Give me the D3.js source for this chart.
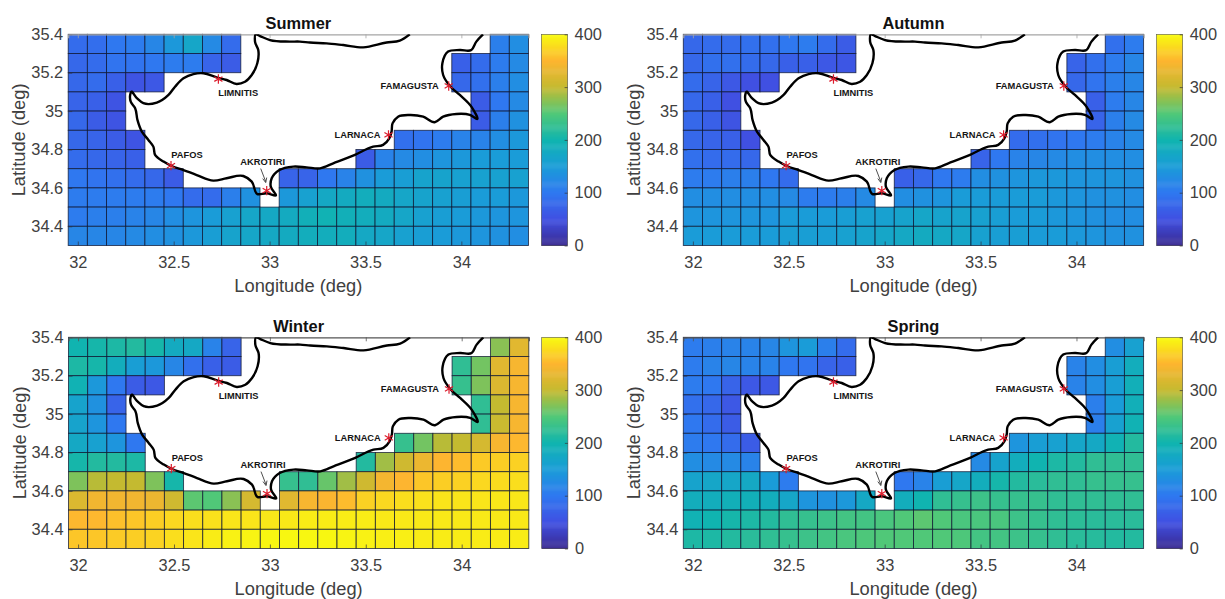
<!DOCTYPE html>
<html>
<head>
    <meta charset="utf-8">
    <script src="https://d3js.org/d3.v7.min.js"></script>
    <title>Cyprus seasons</title>
    <style>
        body { margin: 0; background: white; }
        svg { display: block; font-family: "Liberation Sans", Arial, sans-serif; }
    </style>
</head>
<body>
<svg id="chart" width="1225" height="599"></svg>
<script>
const n = null;

// one row per latitude, north to south, 24 longitudes; null = land / no data
const lons = d3.range(24).map(i => 32 + i * 0.1);
const lats = d3.range(11).map(i => 35.35 - i * 0.1);

const summer = [
  [85,88,100,105,120,145,170,125,85, n,n,n,n,n,n,n,n,n,n,n,n,n, 110,130],
  [80,85,95,95,100,105,105,75,65, n,n,n,n,n,n,n,n,n,n,n, 70,85,105,125],
  [80,85,70,55,60, n,n,n,n,n,n,n,n,n,n,n,n,n,n,n, 80,90,110,130],
  [75,70,55, n,n,n,n,n,n,n,n,n,n,n,n,n,n,n,n,n,n, 65,100,125],
  [80,65,55, n,n,n,n,n,n,n,n,n,n,n,n,n,n,n,n,n,n, 65,110,135],
  [80,75,65,55, n,n,n,n,n,n,n,n,n,n,n,n,n, 90,95,105,115,115,130,145],
  [85,80,75,70, n,n,n,n,n,n,n,n,n,n,n, 65,115,125,130,140,145,150,150,150],
  [100,95,90,85,80,65, n,n,n,n,n, 75,75,100,115,135,150,155,165,165,160,160,160,160],
  [105,105,105,105,105,100,85,85,110,135, n, 145,160,175,180,185,180,170,165,160,155,150,150,145],
  [105,110,110,115,120,130,140,150,160,170,175,180,190,195,190,185,180,170,160,155,150,145,140,140],
  [120,120,120,125,130,135,145,155,165,170,175,180,185,185,185,175,170,160,155,150,145,140,135,130]
];

const autumn = [
  [80,85,85,90,90,100,105,85,65, n,n,n,n,n,n,n,n,n,n,n,n,n, 90,105],
  [80,90,90,85,80,70,70,60,58, n,n,n,n,n,n,n,n,n,n,n, 75,90,105,120],
  [85,75,60,50,50, n,n,n,n,n,n,n,n,n,n,n,n,n,n,n, 80,95,110,120],
  [80,70,50, n,n,n,n,n,n,n,n,n,n,n,n,n,n,n,n,n,n, 70,105,120],
  [80,70,55, n,n,n,n,n,n,n,n,n,n,n,n,n,n,n,n,n,n, 75,110,125],
  [80,75,70,50, n,n,n,n,n,n,n,n,n,n,n,n,n, 85,90,95,100,105,115,125],
  [90,85,85,80, n,n,n,n,n,n,n,n,n,n,n, 75,100,115,120,125,130,130,130,130],
  [105,105,110,110,100,85, n,n,n,n,n, 70,80,100,105,130,135,140,145,145,140,140,140,135],
  [130,130,130,130,130,125,105,105,110,125, n, 130,135,140,150,150,150,150,150,145,140,135,135,130],
  [140,140,140,140,140,150,150,150,155,160,160,165,170,165,165,160,155,150,150,145,140,135,130,130],
  [150,150,150,150,150,155,155,155,160,165,170,175,180,175,170,160,155,155,150,150,145,140,135,135]
];

const winter = [
  [200,205,210,215,205,180,175,115,75, n,n,n,n,n,n,n,n,n,n,n,n,n, 275,325],
  [210,205,185,155,145,120,90,70,65, n,n,n,n,n,n,n,n,n,n,n, 225,265,325,345],
  [195,145,100,65,60, n,n,n,n,n,n,n,n,n,n,n,n,n,n,n, 230,270,320,345],
  [165,135,75, n,n,n,n,n,n,n,n,n,n,n,n,n,n,n,n,n,n, 225,300,345],
  [165,140,100, n,n,n,n,n,n,n,n,n,n,n,n,n,n,n,n,n,n, 225,305,345],
  [175,160,140,100, n,n,n,n,n,n,n,n,n,n,n,n,n, 230,265,295,300,315,345,352],
  [205,215,215,210, n,n,n,n,n,n,n,n,n,n,n, 215,285,310,335,350,355,365,368,370],
  [270,295,300,300,270,205, n,n,n,n,n, 230,225,260,285,310,342,350,362,368,370,375,378,380],
  [320,340,340,340,335,310,255,250,275,315, n, 325,345,348,355,370,375,380,382,384,385,385,386,386],
  [352,352,358,362,368,375,380,382,385,385,386,388,390,390,390,390,388,388,388,388,388,388,388,388],
  [362,362,366,368,372,380,385,390,394,396,398,398,398,398,396,394,392,392,390,390,390,390,390,390]
];

const spring = [
  [105,110,115,115,120,140,150,110,85, n,n,n,n,n,n,n,n,n,n,n,n,n, 130,160],
  [105,115,120,115,115,100,95,75,70, n,n,n,n,n,n,n,n,n,n,n, 115,130,155,185],
  [105,100,75,60,60, n,n,n,n,n,n,n,n,n,n,n,n,n,n,n, 115,130,155,190],
  [90,80,60, n,n,n,n,n,n,n,n,n,n,n,n,n,n,n,n,n,n, 110,150,190],
  [100,85,65, n,n,n,n,n,n,n,n,n,n,n,n,n,n,n,n,n,n, 110,160,195],
  [105,100,85,65, n,n,n,n,n,n,n,n,n,n,n,n,n, 140,155,160,170,175,195,215],
  [130,125,125,115, n,n,n,n,n,n,n,n,n,n,n, 125,165,185,200,210,215,225,225,225],
  [165,170,170,175,150,105, n,n,n,n,n, 100,115,155,170,185,205,215,220,225,225,230,230,230],
  [185,185,190,190,185,170,140,135,145,175, n, 185,200,225,230,235,230,230,230,225,225,225,225,225],
  [195,200,205,210,215,225,230,235,240,240,245,250,255,250,245,245,245,235,230,225,222,220,220,220],
  [210,210,215,220,225,230,235,240,245,248,250,250,250,250,248,240,240,235,230,225,220,218,215,215]
];

// coastline
const coastLon = [33.731,33.679,33.610,33.488,33.384,33.297,33.210,33.158,33.106,33.002,32.950,32.929,32.924,32.941,32.936,32.907,32.872,32.828,32.776,32.724,32.655,32.603,32.551,32.507,32.473,32.412,32.342,32.308,32.278,32.273,32.276,32.299,32.311,32.334,32.368,32.394,32.403,32.447,32.490,32.551,32.620,32.707,32.776,32.863,32.907,32.936,32.985,33.033,33.006,33.011,33.051,33.124,33.193,33.263,33.332,33.445,33.540,33.592,33.624,33.636,33.641,33.670,33.731,33.801,33.861,33.905,33.974,34.044,34.082,34.052,33.992,33.940,33.905,33.901,33.931,33.992,34.052,34.078,34.113];
const coastLat = [35.400,35.367,35.357,35.332,35.344,35.353,35.357,35.362,35.362,35.370,35.391,35.400,35.362,35.318,35.249,35.188,35.153,35.141,35.162,35.176,35.197,35.193,35.171,35.127,35.084,35.044,35.041,35.067,35.100,35.084,35.049,35.015,34.954,34.893,34.850,34.815,34.772,34.737,34.714,34.693,34.667,34.638,34.650,34.662,34.633,34.568,34.572,34.561,34.607,34.650,34.693,34.711,34.707,34.702,34.728,34.772,34.815,34.824,34.858,34.893,34.936,34.971,34.980,34.971,34.942,34.971,34.985,34.980,34.959,35.023,35.084,35.131,35.188,35.249,35.310,35.318,35.318,35.362,35.400];

const stationNames = ["LIMNITIS", "PAFOS", "AKROTIRI", "LARNACA", "FAMAGUSTA"];
const stationLon = [32.733, 32.486, 32.985, 33.620, 33.934];
const stationLat = [35.167, 34.716, 34.586, 34.876, 35.131];
// label anchor and offset from the star, in pixels
const stationAnchor = ["start", "middle", "middle", "end", "end"];
const stationDx = [0, 16, -4, -8, -10];
const stationDy = [17, -8, -26, 3, 3];

const lonTicks = [32, 32.5, 33, 33.5, 34];
const latTicks = [34.4, 34.6, 34.8, 35, 35.2, 35.4];
const barTicks = [0, 100, 200, 300, 400];

// parula as it looks in the colour bar
const colorStops = [0, 50, 100, 150, 200, 250, 300, 350, 400];
const colorValues = ["#3a2a90", "#4050e2", "#2f78f0", "#1a9cd8", "#10b4b0", "#50c878", "#c4ba30", "#fdb530", "#f8fa10"];

const seasons = ["Summer", "Autumn", "Winter", "Spring"];
const seasonData = [summer, autumn, winter, spring];
const panelLeft = [68.2, 683.3, 68.5, 683.3];
const panelTop = [34.3, 34.3, 337.3, 337.3];
const topLine = ["#a5a5a5", "#a5a5a5", "#555", "#555"];
const panelWidth = 460.3;
const panelHeight = 211.2;
const textColor = "#404040";

const svg = d3.select("svg#chart");
const color = d3.scaleLinear().domain(colorStops).range(colorValues);

seasons.forEach((season, s) => {
    const values = seasonData[s];
    const left = panelLeft[s];
    const top = panelTop[s];

    const x = d3.scaleLinear().domain([31.95, 34.35]).range([left, left + panelWidth]);
    const y = d3.scaleLinear().domain([34.3, 35.4]).range([top + panelHeight, top]);

    const panel = svg.append("g").attr("id", season.toLowerCase());

    svg.append("clipPath").attr("id", "clip" + s)
       .append("rect")
       .attr("x", left).attr("y", top)
       .attr("width", panelWidth).attr("height", panelHeight);

    // cells
    values.forEach((row, r) => {
        row.forEach((v, c) => {
            if (v === null) return;
            panel.append("rect")
                 .attr("x", x(lons[c] - 0.05))
                 .attr("y", y(lats[r] + 0.05))
                 .attr("width", x(lons[c] + 0.05) - x(lons[c] - 0.05))
                 .attr("height", y(lats[r] - 0.05) - y(lats[r] + 0.05))
                 .attr("fill", color(v))
                 .attr("stroke", "#0c1430")
                 .attr("stroke-opacity", 0.8)
                 .attr("stroke-width", 0.9);
        });
    });

    // axes, ticks point inward like matlab
    const axisB = panel.append("g")
        .attr("transform", `translate(0,${top + panelHeight})`)
        .call(d3.axisBottom(x).tickValues(lonTicks).tickFormat(d3.format("")).tickSize(-4).tickPadding(11));
    const axisL = panel.append("g")
        .attr("transform", `translate(${left},0)`)
        .call(d3.axisLeft(y).tickValues(latTicks).tickFormat(d3.format("")).tickSize(-4).tickPadding(5));
    const axisT = panel.append("g")
        .attr("transform", `translate(0,${top})`)
        .call(d3.axisTop(x).tickValues(lonTicks).tickFormat("").tickSize(-4));

    [axisB, axisL].forEach(a => {
        a.select(".domain").remove();
        a.selectAll("text").attr("fill", textColor).attr("font-size", 16.4).attr("font-family", "inherit");
        a.selectAll("line").attr("stroke", "#303040").attr("stroke-width", 0.7);
    });
    axisT.select(".domain").attr("stroke", topLine[s]).attr("stroke-width", 1.2);
    axisT.selectAll("line").attr("stroke", topLine[s]).attr("stroke-width", 0.8);

    // coast
    const coast = d3.line().x(i => x(coastLon[i])).y(i => y(coastLat[i])).curve(d3.curveCatmullRom.alpha(1));
    panel.append("path")
         .attr("d", coast(d3.range(coastLon.length)))
         .attr("fill", "none")
         .attr("stroke", "black")
         .attr("stroke-width", 2.4)
         .attr("stroke-linejoin", "round")
         .attr("clip-path", `url(#clip${s})`);

    // stations
    stationNames.forEach((name, i) => {
        const sx = x(stationLon[i]);
        const sy = y(stationLat[i]);
        panel.append("path")
             .attr("d", d3.symbol().type(d3.symbolAsterisk).size(62)())
             .attr("transform", `translate(${sx},${sy})`)
             .attr("fill", "none")
             .attr("stroke", "#dc1c2c")
             .attr("stroke-width", 1.2);
        panel.append("text")
             .attr("x", sx + stationDx[i])
             .attr("y", sy + stationDy[i])
             .attr("text-anchor", stationAnchor[i])
             .attr("font-size", 9.3)
             .attr("font-weight", "bold")
             .attr("fill", "#151515")
             .text(name);
    });

    // arrow to akrotiri
    const ax = x(stationLon[2]);
    const ay = y(stationLat[2]);
    panel.append("path")
         .attr("d", `M${ax - 6},${ay - 22}L${ax - 1},${ay - 9}M${ax - 4},${ay - 12}L${ax - 1},${ay - 8}L${ax},${ay - 13}`)
         .attr("fill", "none")
         .attr("stroke", "#222")
         .attr("stroke-width", 0.8);

    // title and labels
    panel.append("text")
         .attr("x", left + panelWidth / 2)
         .attr("y", top - 5)
         .attr("text-anchor", "middle")
         .attr("font-size", 16.4)
         .attr("font-weight", "bold")
         .attr("fill", "#111")
         .text(season);
    panel.append("text")
         .attr("x", left + panelWidth / 2)
         .attr("y", top + panelHeight + 46)
         .attr("text-anchor", "middle")
         .attr("font-size", 18.3)
         .attr("fill", textColor)
         .text("Longitude (deg)");
    panel.append("text")
         .attr("transform", `translate(${left - 43},${top + panelHeight / 2}) rotate(-90)`)
         .attr("text-anchor", "middle")
         .attr("font-size", 18.3)
         .attr("fill", textColor)
         .text("Latitude (deg)");

    // colour bar
    const barLeft = left + 473.2;
    const barWidth = 26.2;
    const barScale = d3.scaleLinear().domain([0, 400]).range([top + panelHeight, top]);
    const bar = panel.append("g");
    d3.range(0, 400, 2).forEach(v => {
        bar.append("rect")
           .attr("x", barLeft)
           .attr("y", barScale(v + 2))
           .attr("width", barWidth)
           .attr("height", barScale(v) - barScale(v + 2) + 0.5)
           .attr("fill", color(v + 1));
    });
    bar.append("rect")
       .attr("x", barLeft).attr("y", top)
       .attr("width", barWidth).attr("height", panelHeight)
       .attr("fill", "none")
       .attr("stroke", "#555")
       .attr("stroke-width", 0.6);
    const barAxis = panel.append("g")
        .attr("transform", `translate(${barLeft + barWidth},0)`)
        .call(d3.axisRight(barScale).tickValues(barTicks).tickFormat(d3.format("")).tickSize(-3).tickPadding(7));
    barAxis.select(".domain").remove();
    barAxis.selectAll("text").attr("fill", textColor).attr("font-size", 16.4).attr("font-family", "inherit");
    barAxis.selectAll("line").attr("stroke", "#333").attr("stroke-width", 0.7);
});
</script>
</body>
</html>
